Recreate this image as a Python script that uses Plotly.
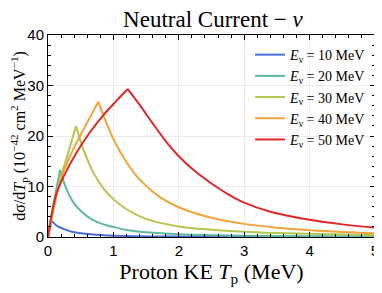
import plotly.graph_objects as go

energies = [10, 20, 30, 40, 50]
colors = ["#4a6fd6", "#5fb8a0", "#aec94e", "#f2a33a", "#e02828"]

# Rising branches (Tp in MeV, dσ/dTp in 1e-42 cm^2/MeV)
rise_T = {
    10: [0.0, 0.02, 0.04, 0.057],
    20: [0.0, 0.05, 0.1, 0.15, 0.185],
    30: [0.0, 0.1, 0.2, 0.3, 0.43],
    40: [0.0, 0.1, 0.2, 0.3, 0.45, 0.6, 0.77],
    50: [0.0, 0.05, 0.13, 0.236, 0.44, 0.645, 0.85, 1.05, 1.22],
}
rise_S = {
    10: [0.0, 1.3, 2.4, 3.2],
    20: [0.0, 4.0, 7.6, 11.0, 13.3],
    30: [0.0, 6.5, 12.0, 16.3, 22.0],
    40: [0.0, 6.5, 11.5, 15.0, 19.0, 22.7, 26.8],
    50: [0.0, 4.0, 8.6, 11.9, 16.8, 20.8, 24.2, 27.0, 29.3],
}
# Falling branches
fall_T = {
    10: [0.057, 0.1, 0.15, 0.24, 0.35, 0.54, 0.85, 1.4, 2.0, 3.0, 4.0, 5.0],
    20: [0.185, 0.23, 0.29, 0.38, 0.44, 0.645, 0.85, 1.0, 1.2, 1.5, 2.0, 3.0, 4.0, 5.0],
    30: [0.43, 0.54, 0.7, 0.85, 1.0, 1.2, 1.5, 2.0, 2.5, 3.0, 3.5, 4.0, 4.5, 5.0],
    40: [0.77, 0.85, 1.0, 1.2, 1.4, 1.7, 2.0, 2.5, 3.0, 3.5, 4.0, 4.5, 5.0],
    50: [1.22, 1.4, 1.6, 1.8, 2.0, 2.25, 2.5, 2.75, 3.0, 3.4, 4.0, 4.5, 5.0],
}
fall_S = {
    10: [3.2, 2.6, 2.1, 1.6, 1.1, 0.7, 0.35, 0.15, 0.08, 0.04, 0.03, 0.02],
    20: [13.3, 11.3, 9.3, 7.0, 6.0, 3.7, 2.5, 2.0, 1.4, 0.95, 0.55, 0.25, 0.13, 0.08],
    30: [22.0, 17.4, 12.6, 9.6, 7.5, 5.5, 3.6, 2.1, 1.45, 1.05, 0.8, 0.62, 0.49, 0.4],
    40: [26.8, 24.0, 19.4, 14.8, 11.4, 8.0, 5.9, 3.8, 2.6, 1.85, 1.35, 1.0, 0.74],
    50: [29.3, 26.2, 22.5, 19.0, 16.0, 13.0, 10.6, 8.5, 6.8, 5.0, 3.4, 2.5, 1.85],
}

x_ticks = [0, 1, 2, 3, 4, 5]
y_ticks = [0, 10, 20, 30, 40]

serif = "Liberation Serif, Times New Roman, serif"
sans = "Liberation Sans, Arial, sans-serif"

fig = go.Figure()
for E, c in zip(energies, colors):
    fig.add_trace(go.Scatter(
        x=fall_T[E], y=fall_S[E], mode="lines",
        line=dict(color=c, width=2, shape="spline", smoothing=1.0),
        name=f"<i>E</i><sub>ν</sub> = {E} MeV", legendgroup=str(E),
    ))
for E, c in zip(energies, colors):
    fig.add_trace(go.Scatter(
        x=rise_T[E], y=rise_S[E], mode="lines",
        line=dict(color=c, width=2, shape="spline", smoothing=1.0),
        showlegend=False, legendgroup=str(E),
    ))

axis_common = dict(
    showline=True, linecolor="black", linewidth=1, mirror="allticks",
    ticks="inside", ticklen=5, tickcolor="black", tickwidth=1,
    showgrid=True, gridcolor="#ebebeb", gridwidth=1, zeroline=False,
    tickfont=dict(family=sans, size=15, color="black"),
    automargin=False,
)

fig.update_xaxes(
    range=[0, 5], tickvals=x_ticks,
    minor=dict(dtick=0.2, ticks="inside", ticklen=3, tickcolor="black", showgrid=False),
    title=dict(text="Proton KE <i>T</i><sub>p</sub> (MeV)",
               font=dict(family=serif, size=22, color="black"), standoff=0),
    **axis_common,
)
fig.update_yaxes(
    range=[0, 40], tickvals=y_ticks,
    minor=dict(dtick=2, ticks="inside", ticklen=3, tickcolor="black", showgrid=False),
    title=dict(text="dσ/d<i>T</i><sub>p</sub> (10<sup>−42</sup> cm<sup>2</sup> MeV<sup>−1</sup>)",
               font=dict(family=serif, size=16, color="black"), standoff=0),
    **axis_common,
)

# The page body adds an 8 px offset, so the figure is sized to the visible area.
fig.update_layout(
    width=374, height=285,
    margin=dict(l=40, r=7, t=27, b=56),
    paper_bgcolor="white", plot_bgcolor="white",
    title=dict(text="Neutral Current − <i>ν</i>", x=0.548, xanchor="center",
               y=0.962, yanchor="middle",
               font=dict(family=serif, size=23, color="black")),
    legend=dict(x=0.988, y=0.98, xanchor="right", yanchor="top",
                bgcolor="rgba(0,0,0,0)", borderwidth=0,
                font=dict(family=serif, size=14, color="black"),
                itemwidth=30, tracegroupgap=0),
    showlegend=True,
)

fig.write_html("out.html")
